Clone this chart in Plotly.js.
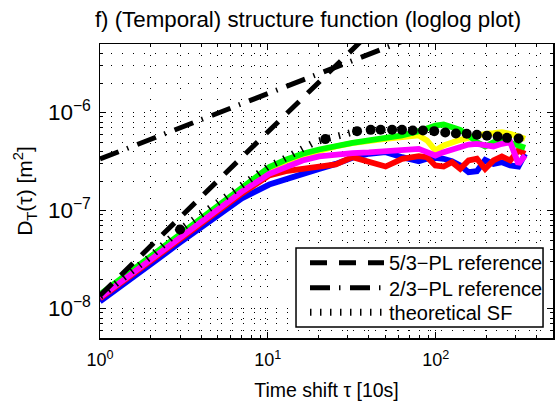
<!DOCTYPE html>
<html>
<head>
<meta charset="utf-8">
<script src="https://cdn.plot.ly/plotly-3.0.1.min.js"></script>
<style>
html,body{margin:0;padding:0;background:#fff;}
#chart{width:556px;height:401px;}
</style>
</head>
<body>
<div id="chart"></div>
<script>
// time shift tau [10 s] for the measured structure functions
const tauData = [1, 1.5, 2, 3, 4, 5, 7, 10.2, 12.8, 16.1, 20.2, 25.4, 31.9, 40, 50.3, 63.1, 79.3, 88.8, 99.5, 111.5, 125, 140, 157, 176, 197, 221, 248, 278, 311, 341];

const greenD   = [1.39e-8, 2.33e-8, 3.40e-8, 5.69e-8, 8.28e-8, 1.10e-7, 1.72e-7, 2.77e-7, 3.29e-7, 3.79e-7, 4.19e-7, 4.61e-7, 4.90e-7, 5.18e-7, 5.47e-7, 5.83e-7, 6.45e-7, 6.98e-7, 7.37e-7, 7.54e-7, 7.20e-7, 6.65e-7, 5.83e-7, 4.98e-7, 4.50e-7, 4.98e-7, 5.26e-7, 4.98e-7, 4.61e-7, 4.36e-7];
const yellowD  = [1.325e-8, 2.22e-8, 3.24e-8, 5.43e-8, 7.91e-8, 1.05e-7, 1.60e-7, 2.66e-7, 3.19e-7, 3.64e-7, 4.10e-7, 4.50e-7, 4.86e-7, 5.18e-7, 5.39e-7, 5.60e-7, 5.83e-7, 5.18e-7, 4.10e-7, 4.61e-7, 4.98e-7, 5.26e-7, 5.51e-7, 5.83e-7, 6.06e-7, 6.15e-7, 6.30e-7, 6.06e-7, 5.60e-7, 5.39e-7];
const magentaD = [1.295e-8, 2.17e-8, 3.16e-8, 5.30e-8, 7.73e-8, 1.02e-7, 1.56e-7, 2.37e-7, 2.81e-7, 3.24e-7, 3.56e-7, 3.73e-7, 3.85e-7, 3.91e-7, 4.00e-7, 4.10e-7, 4.26e-7, 3.94e-7, 3.64e-7, 3.94e-7, 4.16e-7, 4.50e-7, 4.71e-7, 4.79e-7, 4.68e-7, 4.50e-7, 4.79e-7, 4.98e-7, 2.99e-7, 3.64e-7];
const redD     = [1.265e-8, 2.12e-8, 3.09e-8, 5.18e-8, 7.55e-8, 1.0e-7, 1.49e-7, 2.28e-7, 2.52e-7, 2.66e-7, 2.77e-7, 2.95e-7, 3.50e-7, 3.11e-7, 2.81e-7, 3.37e-7, 3.58e-7, 3.50e-7, 2.88e-7, 2.81e-7, 3.11e-7, 2.66e-7, 3.24e-7, 3.37e-7, 2.66e-7, 3.24e-7, 3.56e-7, 3.24e-7, 4.10e-7, 3.79e-7];
const blueD    = [1.18e-8, 1.93e-8, 2.81e-8, 4.71e-8, 6.71e-8, 8.89e-8, 1.33e-7, 1.84e-7, 2.10e-7, 2.37e-7, 2.66e-7, 2.99e-7, 3.45e-7, 3.79e-7, 3.94e-7, 3.50e-7, 3.19e-7, 3.37e-7, 3.45e-7, 3.37e-7, 3.19e-7, 2.88e-7, 2.46e-7, 2.52e-7, 3.29e-7, 2.99e-7, 3.11e-7, 2.88e-7, 2.81e-7, 3.79e-7];

// theoretical structure function
const theoryTau = [1, 1.5, 2, 3, 4, 5, 7, 10, 12, 14, 16, 19, 22, 25, 29, 34, 41, 47, 55, 63, 73, 84, 98, 114, 132, 153, 176, 202, 234, 266, 312];
const theoryD   = [1.33e-8, 2.3e-8, 3.4e-8, 6.4e-8, 9.2e-8, 1.22e-7, 1.85e-7, 2.8e-7, 3.24e-7, 3.79e-7, 4.36e-7, 4.98e-7, 5.35e-7, 5.6e-7, 6.06e-7, 6.45e-7, 6.65e-7, 6.66e-7, 6.66e-7, 6.65e-7, 6.55e-7, 6.55e-7, 6.45e-7, 6.25e-7, 6.1e-7, 6.06e-7, 5.92e-7, 5.78e-7, 5.69e-7, 5.51e-7, 5.43e-7];

// power-law reference lines (end points)
const pl53Tau = [1, 40];
const pl53D   = [1.36e-8, 6.4e-6];
const pl23Tau = [1, 200];
const pl23D   = [3.35e-7, 1.15e-5];

const legendNames = ['5/3\u2212PL reference', '2/3\u2212PL reference', 'theoretical SF'];
const xTickVals = [1, 10, 100];
const xTickText = ['10<sup>0</sup>', '10<sup>1</sup>', '10<sup>2</sup>'];

const FONT = 'Liberation Sans, Arial, Helvetica, sans-serif';

function colored(y, color) {
  return {x: tauData, y: y, type: 'scatter', mode: 'lines', showlegend: false,
          line: {color: color, width: 5.8}, hoverinfo: 'skip'};
}

// split theoretical SF: tick-dotted line on the rise, round dots where it flattens
const tickIdx = theoryTau.map((t, i) => i).filter(i => theoryTau[i] <= 34);
const dotIdx = theoryTau.map((t, i) => i).filter(i => theoryTau[i] >= 34 || theoryTau[i] === 3 || theoryTau[i] === 22);

const traces = [
  colored(blueD, 'rgb(0,0,255)'),
  colored(redD, 'rgb(255,0,0)'),
  colored(yellowD, 'rgb(255,255,0)'),
  colored(greenD, 'rgb(0,255,0)'),
  colored(magentaD, 'rgb(255,0,255)'),
  {x: pl53Tau, y: pl53D, type: 'scatter', mode: 'lines', name: legendNames[0], legend: 'legend',
   line: {color: 'black', width: 5, dash: '17px,12px'}},
  {x: pl23Tau, y: pl23D, type: 'scatter', mode: 'lines', name: legendNames[1], legend: 'legend2',
   line: {color: 'black', width: 5, dash: '20px,9px,1.5px,9.5px'}},
  {x: tickIdx.map(i => theoryTau[i]), y: tickIdx.map(i => theoryD[i]), type: 'scatter', mode: 'lines', name: legendNames[2], legend: 'legend3',
   line: {color: 'black', width: 7, dash: '1.5px,8.5px'}},
  {x: dotIdx.map(i => theoryTau[i]), y: dotIdx.map(i => theoryD[i]), type: 'scatter', mode: 'markers', showlegend: false,
   marker: {color: 'black', size: 10, symbol: 'circle'}}
];

function legendAt(yTop) {
  return {x: 0.4525, xanchor: 'left', y: yTop, yanchor: 'top', bgcolor: 'rgba(0,0,0,0)', borderwidth: 0,
          font: {family: FONT, size: 20, color: 'black'}, itemwidth: 74, tracegroupgap: 0};
}

const gridDash = '1px,10px';
const layout = {
  width: 556, height: 401,
  margin: {l: 100, r: 3, t: 44, b: 63, pad: 0},
  paper_bgcolor: 'white', plot_bgcolor: 'white',
  font: {family: FONT, color: 'black', size: 18},
  title: {text: 'f) (Temporal) structure function (loglog plot)', font: {family: FONT, size: 22.3, color: 'black'},
          x: 0.554, xref: 'container', xanchor: 'center', y: 1 - 19.5/401, yref: 'container', yanchor: 'middle'},
  showlegend: true,
  legend: legendAt(0.3225),
  legend2: legendAt(0.2374),
  legend3: legendAt(0.1536),
  shapes: [
    {type: 'rect', xref: 'x domain', yref: 'y domain', x0: 0.4327, x1: 0.978, y0: 0.0375, y1: 0.3064,
     line: {color: 'black', width: 1.5}, fillcolor: 'white', layer: 'above'}
  ],
  xaxis: {
    type: 'log', range: [0, Math.log10(500)], autorange: false,
    tickmode: 'array', tickvals: xTickVals, ticktext: xTickText,
    ticks: 'inside', ticklen: 6, tickwidth: 1, tickcolor: 'black', ticklabelstandoff: 5,
    showline: true, linecolor: 'black', linewidth: 1.5, mirror: 'allticks',
    showgrid: true, gridcolor: 'black', gridwidth: 1, griddash: gridDash,
    zeroline: false,
    tickfont: {family: FONT, size: 18, color: 'black'},
    minor: {dtick: 'D1', ticks: 'inside', ticklen: 3, tickcolor: 'black', tickwidth: 1,
            showgrid: true, gridcolor: 'black', gridwidth: 1, griddash: gridDash},
    title: {text: 'Time shift \u03c4 [10s]', font: {family: FONT, size: 19.5, color: 'black'}, standoff: 14}
  },
  yaxis: {
    type: 'log', range: [Math.log10(5e-9), Math.log10(5e-6)], autorange: false,
    dtick: 1, exponentformat: 'power', showexponent: 'all',
    ticks: 'inside', ticklen: 6, tickwidth: 1, tickcolor: 'black', ticklabelstandoff: 4,
    showline: true, linecolor: 'black', linewidth: 1.5, mirror: 'allticks',
    showgrid: true, gridcolor: 'black', gridwidth: 1, griddash: gridDash,
    zeroline: false,
    tickfont: {family: FONT, size: 18, color: 'black'},
    minor: {dtick: 'D1', ticks: 'inside', ticklen: 3, tickcolor: 'black', tickwidth: 1,
            showgrid: true, gridcolor: 'black', gridwidth: 1, griddash: gridDash},
    title: {text: 'D<sub>T</sub>(\u03c4) [m<sup>2</sup>]', font: {family: FONT, size: 21, color: 'black'}, standoff: 9}
  }
};

Plotly.newPlot('chart', traces, layout, {staticPlot: true, displayModeBar: false});
</script>
</body>
</html>
